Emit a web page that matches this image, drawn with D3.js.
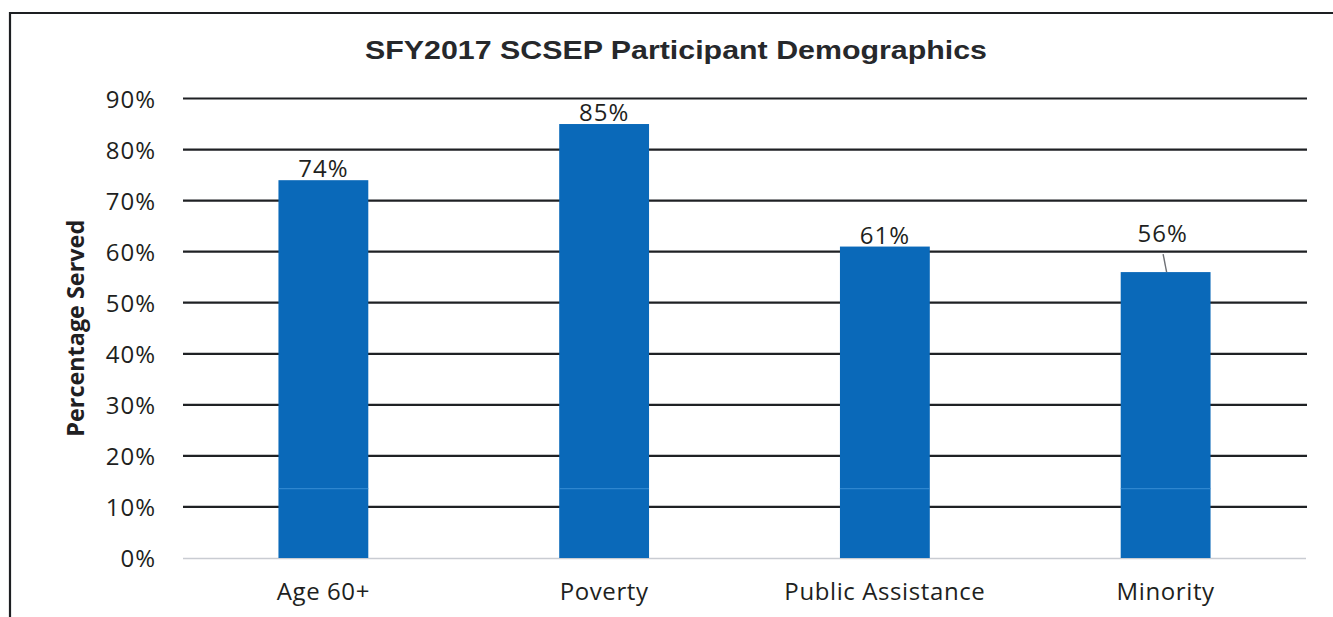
<!DOCTYPE html>
<html>
<head>
<meta charset="utf-8">
<script src="https://cdn.jsdelivr.net/npm/d3@7"></script>
<style>
  html, body { margin: 0; padding: 0; background: #fff; }
  svg { display: block; }
</style>
</head>
<body>
<svg id="chart" width="1333" height="617"></svg>
<script>
// Participant demographics, share of participants served (percent)
const categories = ["Age 60+", "Poverty", "Public Assistance", "Minority"];
const values = [74, 85, 61, 56];
const yTicks = [0, 10, 20, 30, 40, 50, 60, 70, 80, 90];
const titleText = "SFY2017 SCSEP Participant Demographics";
const yAxisTitle = "Percentage Served";

const svg = d3.select("#chart");
const W = 1333, H = 617;
const plot = { left: 183, right: 1306, top: 98.5, bottom: 558 };

const x = d3.scaleBand()
  .domain(categories)
  .range([plot.left, plot.right])
  .paddingInner(0.68)
  .paddingOuter(0.34);

const y = d3.scaleLinear()
  .domain([0, 90])
  .range([plot.bottom, plot.top]);

const tickFont = "'Open Sans', 'Noto Sans', sans-serif";
const textColor = "#1e1f21";

// outer frame (runs off the right and bottom edges)
svg.append("path")
  .attr("d", `M10,${H + 5} L10,13 L${W + 5},13`)
  .attr("fill", "none")
  .attr("stroke", "#1d1f22")
  .attr("stroke-width", 2.2);

// title
svg.append("text")
  .attr("x", 676)
  .attr("y", 59)
  .attr("text-anchor", "middle")
  .attr("font-family", "'Liberation Sans', Arial, sans-serif")
  .attr("font-weight", "bold")
  .attr("font-size", 25)
  .attr("fill", "#26282b")
  .attr("textLength", 622)
  .attr("lengthAdjust", "spacingAndGlyphs")
  .text(titleText);

// horizontal gridlines (dark), baseline light grey
svg.append("g")
  .selectAll("line")
  .data(yTicks.filter(d => d > 0))
  .join("line")
  .attr("x1", plot.left)
  .attr("x2", plot.right + 1)
  .attr("y1", d => y(d))
  .attr("y2", d => y(d))
  .attr("stroke", "#1f2124")
  .attr("stroke-width", 2.2);

svg.append("line")
  .attr("x1", plot.left)
  .attr("x2", plot.right)
  .attr("y1", y(0) + 0.5)
  .attr("y2", y(0) + 0.5)
  .attr("stroke", "#c9ccd2")
  .attr("stroke-width", 1.6);

// y axis labels
const yAxis = d3.axisLeft(y)
  .tickValues(yTicks)
  .tickFormat(d => d + "%")
  .tickSize(0)
  .tickPadding(0);

const yG = svg.append("g")
  .attr("transform", `translate(156,0)`)
  .call(yAxis);
yG.select(".domain").remove();
yG.selectAll("text")
  .attr("font-family", tickFont)
  .attr("font-size", 24)
  .attr("fill", textColor)
  .attr("letter-spacing", 1)
  .attr("dy", "0.36em");

// x axis labels
const xAxis = d3.axisBottom(x).tickSize(0).tickPadding(0);
const xG = svg.append("g")
  .attr("transform", `translate(0,${plot.bottom})`)
  .call(xAxis);
xG.select(".domain").remove();
xG.selectAll("text")
  .attr("font-family", tickFont)
  .attr("font-size", 24)
  .attr("fill", textColor)
  .attr("letter-spacing", 0.6)
  .attr("dy", 0)
  .attr("y", 42);

// y axis title
svg.append("text")
  .attr("transform", `translate(84,${(plot.top + plot.bottom) / 2}) rotate(-90)`)
  .attr("text-anchor", "middle")
  .attr("font-family", "'Liberation Sans Narrow', 'Open Sans', sans-serif")
  .attr("font-weight", "bold")
  .attr("font-size", 23)
  .attr("fill", "#1f2022")
  .attr("textLength", 217)
  .attr("lengthAdjust", "spacingAndGlyphs")
  .text(yAxisTitle);

// bars
const data = categories.map((c, i) => ({ cat: c, val: values[i] }));
svg.append("g")
  .selectAll("rect")
  .data(data)
  .join("rect")
  .attr("x", d => x(d.cat))
  .attr("y", d => y(d.val))
  .attr("width", x.bandwidth())
  .attr("height", d => y(0) - y(d.val))
  .attr("fill", "#0a69b9");

// faint light streak running across the bars
svg.append("g")
  .selectAll("line")
  .data(data)
  .join("line")
  .attr("x1", d => x(d.cat))
  .attr("x2", d => x(d.cat) + x.bandwidth())
  .attr("y1", y(13.6))
  .attr("y2", y(13.6))
  .attr("stroke", "#3d93d8")
  .attr("stroke-opacity", 0.7)
  .attr("stroke-width", 1.2);

// value labels; the last one is lifted with a leader line
const lifted = { "Minority": 27 };
const labels = svg.append("g");
data.forEach(d => {
  const cx = x(d.cat) + x.bandwidth() / 2;
  const lift = lifted[d.cat] || 0;
  const baseY = y(d.val) - 3 - lift;
  labels.append("text")
    .attr("x", cx - (lift ? 3 : 0))
    .attr("y", baseY)
    .attr("text-anchor", "middle")
    .attr("font-family", tickFont)
    .attr("font-size", 24)
    .attr("letter-spacing", 1)
    .attr("fill", textColor)
    .text(d.val + "%");
  if (lift) {
    labels.append("line")
      .attr("x1", cx - 2.5)
      .attr("y1", baseY + 12)
      .attr("x2", cx + 1)
      .attr("y2", y(d.val))
      .attr("stroke", "#6d7075")
      .attr("stroke-width", 1.4);
  }
});
</script>
</body>
</html>
